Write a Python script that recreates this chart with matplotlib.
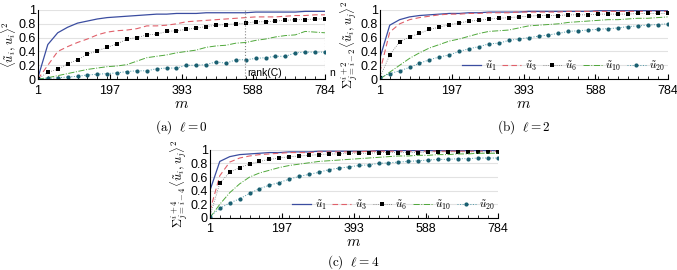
import numpy as np
import matplotlib
matplotlib.use('Agg')
import matplotlib.pyplot as plt

plt.rcParams['font.family'] = ['Liberation Sans', 'DejaVu Sans']
plt.rcParams['mathtext.fontset'] = 'cm'

# sample sizes m = 1, 28, ..., 784
m = np.arange(1, 785, 27)
xticks = [1, 197, 393, 588, 784]
rank_c = 567

# (a) l = 0
a_u1 = [0.02, 0.50, 0.67, 0.75, 0.81, 0.84, 0.87, 0.89, 0.90, 0.91, 0.92, 0.93, 0.94, 0.94, 0.95,
        0.95, 0.95, 0.96, 0.96, 0.96, 0.96, 0.96, 0.97, 0.97, 0.97, 0.97, 0.97, 0.98, 0.98, 0.98]
a_u3 = [0.00, 0.20, 0.40, 0.47, 0.53, 0.58, 0.64, 0.68, 0.70, 0.71, 0.73, 0.77, 0.77, 0.78, 0.80,
        0.83, 0.84, 0.85, 0.86, 0.87, 0.88, 0.89, 0.90, 0.90, 0.90, 0.91, 0.92, 0.92, 0.93, 0.93]
a_u6 = [0.00, 0.10, 0.14, 0.22, 0.28, 0.36, 0.41, 0.46, 0.51, 0.58, 0.60, 0.64, 0.65, 0.69, 0.70,
        0.72, 0.74, 0.76, 0.78, 0.79, 0.80, 0.81, 0.83, 0.83, 0.84, 0.85, 0.86, 0.86, 0.87, 0.87]
a_u10 = [0.00, 0.02, 0.05, 0.08, 0.11, 0.14, 0.16, 0.18, 0.19, 0.21, 0.26, 0.31, 0.33, 0.35, 0.38,
         0.40, 0.42, 0.46, 0.48, 0.49, 0.52, 0.53, 0.56, 0.58, 0.61, 0.63, 0.64, 0.69, 0.68, 0.67]
a_u20 = [0.00, 0.01, 0.02, 0.03, 0.04, 0.06, 0.07, 0.08, 0.09, 0.11, 0.12, 0.12, 0.15, 0.16, 0.16,
         0.20, 0.20, 0.21, 0.25, 0.23, 0.28, 0.28, 0.30, 0.31, 0.33, 0.33, 0.38, 0.39, 0.39, 0.39]

# (b) l = 2
b_u1 = [0.30, 0.78, 0.86, 0.90, 0.92, 0.93, 0.94, 0.95, 0.95, 0.96, 0.96, 0.97, 0.97, 0.97, 0.97,
        0.98, 0.98, 0.98, 0.98, 0.98, 0.98, 0.98, 0.99, 0.99, 0.99, 0.99, 0.99, 0.99, 0.99, 0.99]
b_u3 = [0.10, 0.68, 0.80, 0.86, 0.89, 0.91, 0.93, 0.94, 0.94, 0.95, 0.95, 0.96, 0.96, 0.96, 0.97,
        0.97, 0.97, 0.97, 0.97, 0.98, 0.98, 0.98, 0.98, 0.98, 0.98, 0.98, 0.98, 0.98, 0.98, 0.98]
b_u6 = [0.02, 0.35, 0.54, 0.61, 0.66, 0.72, 0.75, 0.79, 0.81, 0.84, 0.85, 0.87, 0.88, 0.89, 0.90,
        0.91, 0.92, 0.92, 0.92, 0.93, 0.93, 0.93, 0.94, 0.94, 0.94, 0.94, 0.95, 0.95, 0.95, 0.95]
b_u10 = [0.00, 0.10, 0.20, 0.30, 0.38, 0.45, 0.50, 0.55, 0.58, 0.62, 0.66, 0.69, 0.70, 0.71, 0.74,
         0.77, 0.78, 0.79, 0.80, 0.82, 0.83, 0.84, 0.85, 0.86, 0.86, 0.87, 0.88, 0.88, 0.89, 0.90]
b_u20 = [0.02, 0.08, 0.12, 0.17, 0.23, 0.28, 0.32, 0.35, 0.40, 0.44, 0.47, 0.51, 0.52, 0.56, 0.58,
         0.60, 0.62, 0.64, 0.66, 0.69, 0.70, 0.71, 0.72, 0.73, 0.74, 0.76, 0.77, 0.78, 0.79, 0.80]

# (c) l = 4
c_u1 = [0.40, 0.83, 0.90, 0.93, 0.94, 0.95, 0.96, 0.96, 0.97, 0.97, 0.97, 0.98, 0.98, 0.98, 0.98,
        0.98, 0.98, 0.99, 0.99, 0.99, 0.99, 0.99, 0.99, 0.99, 0.99, 0.99, 0.99, 0.99, 0.99, 0.99]
c_u3 = [0.10, 0.62, 0.82, 0.88, 0.91, 0.93, 0.94, 0.95, 0.96, 0.96, 0.96, 0.97, 0.97, 0.97, 0.97,
        0.97, 0.98, 0.98, 0.98, 0.98, 0.98, 0.98, 0.98, 0.98, 0.98, 0.98, 0.98, 0.98, 0.98, 0.98]
c_u6 = [0.02, 0.51, 0.67, 0.74, 0.79, 0.83, 0.86, 0.88, 0.90, 0.91, 0.92, 0.93, 0.94, 0.94, 0.95,
        0.95, 0.95, 0.96, 0.96, 0.96, 0.96, 0.96, 0.97, 0.97, 0.97, 0.97, 0.97, 0.97, 0.97, 0.97]
c_u10 = [0.00, 0.20, 0.37, 0.50, 0.60, 0.66, 0.70, 0.74, 0.77, 0.79, 0.81, 0.83, 0.84, 0.85, 0.86,
         0.87, 0.88, 0.89, 0.90, 0.91, 0.91, 0.92, 0.92, 0.93, 0.93, 0.94, 0.94, 0.95, 0.95, 0.95]
c_u20 = [0.02, 0.14, 0.22, 0.28, 0.36, 0.43, 0.48, 0.52, 0.57, 0.61, 0.64, 0.67, 0.71, 0.73, 0.75,
         0.77, 0.78, 0.80, 0.81, 0.82, 0.83, 0.84, 0.85, 0.86, 0.86, 0.87, 0.87, 0.88, 0.88, 0.88]

labels = [r'$\tilde{u}_1$', r'$\tilde{u}_3$', r'$\tilde{u}_6$', r'$\tilde{u}_{10}$', r'$\tilde{u}_{20}$']
styles = [
    dict(color='#3b4da0', ls='-', lw=0.9),
    dict(color='#e0606a', ls=(0, (5, 3)), lw=0.8),
    dict(color='#777777', ls=':', lw=0.6, marker='s', ms=2.6, mew=0, mfc='black'),
    dict(color='#4fa83a', ls='-.', lw=0.7),
    dict(color='#4f9aaa', ls=':', lw=0.7, marker='o', ms=3.0, mew=0, mfc='#1a5f70'),
]


def draw(ax, series, ylabel, caption, cap_y, legend=False):
    for y, st, lab in zip(series, styles, labels):
        ax.plot(m, y, label=lab, **st)
    ax.set_xlim(1, 784)
    ax.set_ylim(0, 1)
    ax.set_xticks(xticks)
    ax.set_xticks(m, minor=True)
    ax.set_yticks([0, 0.2, 0.4, 0.6, 0.8, 1])
    ax.set_yticklabels(['0', '0.2', '0.4', '0.6', '0.8', '1'])
    ax.tick_params(axis='both', which='both', direction='in', labelsize=9)
    ax.tick_params(axis='x', which='minor', length=2.5)
    ax.tick_params(axis='x', which='major', length=3.5, pad=4)
    ax.tick_params(axis='y', length=0, pad=1.5)
    ax.grid(axis='y', color='#e2e2e2', lw=0.8)
    ax.set_axisbelow(True)
    for s in ['top', 'right']:
        ax.spines[s].set_visible(False)
    for s in ['left', 'bottom']:
        ax.spines[s].set_linewidth(0.8)
    ax.set_xlabel(r'$m$', fontsize=11, labelpad=0)
    ax.set_ylabel(ylabel, fontsize=9, labelpad=0.5)
    box = ax.get_position()
    fig.text(box.x0 + box.width / 2, cap_y, caption, ha='center', va='center', fontsize=9.5)
    if legend:
        ax.legend(loc='lower right', bbox_to_anchor=(1.0, 0.06), ncol=5, frameon=False,
                  fontsize=8, handlelength=1.7, handletextpad=0.3, columnspacing=0.5,
                  borderaxespad=0.1, borderpad=0.1)


fig = plt.figure(figsize=(6.77, 2.70), dpi=100)
ax_a = fig.add_axes([0.056, 0.707, 0.424, 0.256])
ax_b = fig.add_axes([0.561, 0.707, 0.425, 0.256])
ax_c = fig.add_axes([0.310, 0.193, 0.425, 0.252])

draw(ax_a, [a_u1, a_u3, a_u6, a_u10, a_u20],
     r'$\langle \tilde{u}_i, u_i \rangle^2$', r'$\mathrm{(a)}\ \ \ell = 0$', 1 - 127 / 270)
draw(ax_b, [b_u1, b_u3, b_u6, b_u10, b_u20],
     r'$\Sigma_{j=i-2}^{i+2}\langle \tilde{u}_i, u_j \rangle^2$', r'$\mathrm{(b)}\ \ \ell = 2$',
     1 - 127 / 270, legend=True)
draw(ax_c, [c_u1, c_u3, c_u6, c_u10, c_u20],
     r'$\Sigma_{j=i-4}^{i+4}\langle \tilde{u}_i, u_j \rangle^2$', r'$\mathrm{(c)}\ \ \ell = 4$',
     1 - 262 / 270, legend=True)

# rank(C) and n markers in panel (a)
ax_a.axvline(rank_c, color='#888888', ls=':', lw=0.8)
ax_a.axvline(784, color='#888888', ls=':', lw=0.8)
ax_a.text(rank_c + 5, 0.02, 'rank(C)', fontsize=7.5, va='bottom', ha='left')
ax_a.text(795, 0.02, 'n', fontsize=7.5, va='bottom', ha='left')

fig.savefig('out.png', dpi=100)
